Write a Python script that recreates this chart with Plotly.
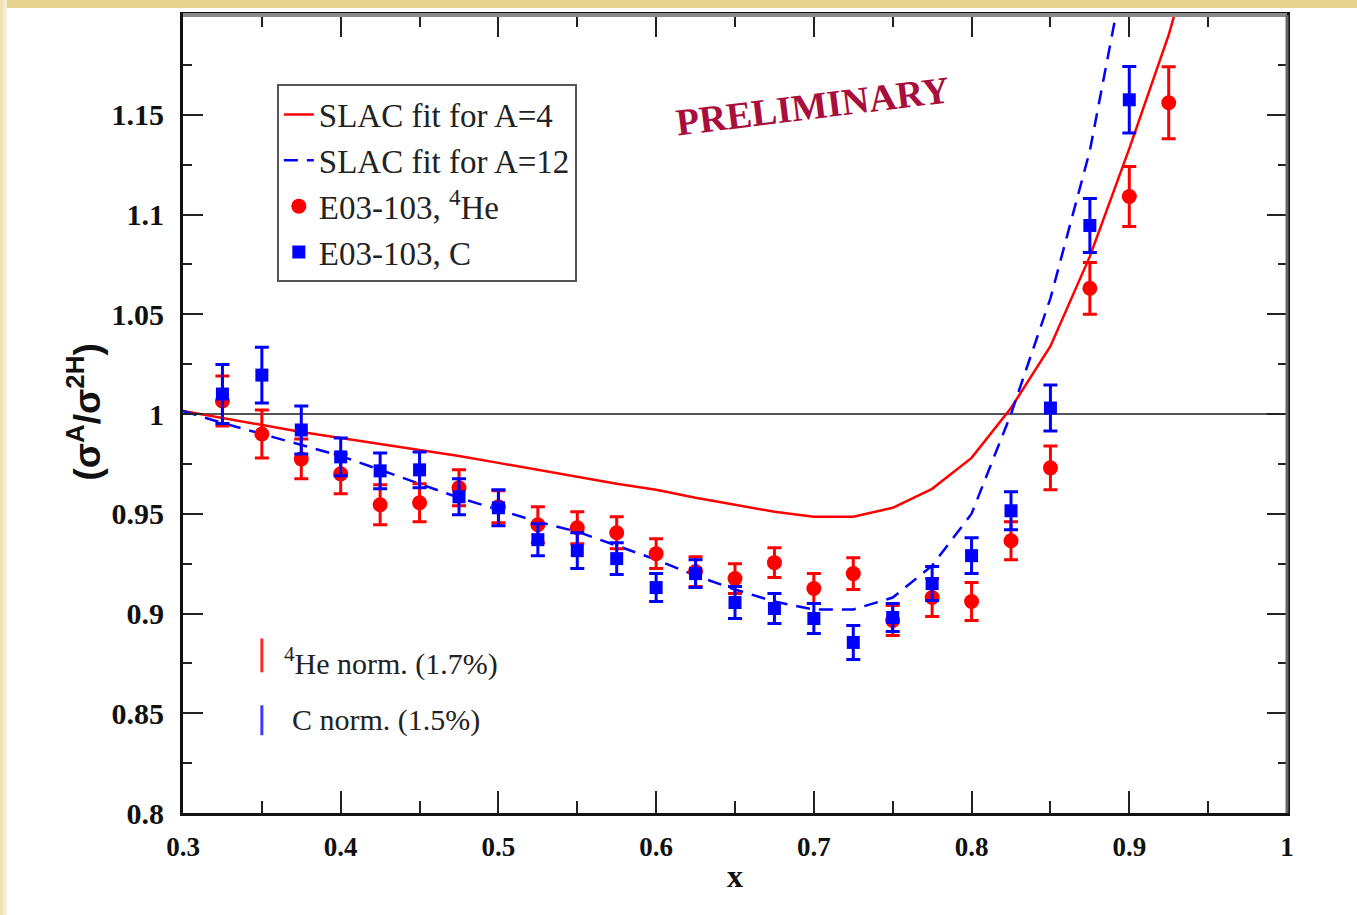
import plotly.graph_objects as go

# ---------------- data ----------------
x_he = [0.325, 0.35, 0.375, 0.4, 0.425, 0.45, 0.475, 0.5, 0.525, 0.55, 0.575, 0.6, 0.625,
        0.65, 0.675, 0.7, 0.725, 0.75, 0.775, 0.8, 0.825, 0.85, 0.875, 0.9, 0.925]
y_he = [1.0065, 0.990, 0.9775, 0.970, 0.9545, 0.9555, 0.963, 0.9535, 0.9445, 0.943, 0.9405,
        0.930, 0.921, 0.9175, 0.9255, 0.9125, 0.920, 0.8965, 0.908, 0.906, 0.9365, 0.973,
        1.063, 1.109, 1.156]
e_he = [0.0125, 0.012, 0.010, 0.010, 0.010, 0.0095, 0.009, 0.008, 0.009, 0.008, 0.008,
        0.0075, 0.0075, 0.0075, 0.0075, 0.0075, 0.008, 0.0075, 0.0095, 0.0095, 0.0095,
        0.011, 0.013, 0.015, 0.018]

x_c = [0.325, 0.35, 0.375, 0.4, 0.425, 0.45, 0.475, 0.5, 0.525, 0.55, 0.575, 0.6, 0.625,
       0.65, 0.675, 0.7, 0.725, 0.75, 0.775, 0.8, 0.825, 0.85, 0.875, 0.9]
y_c = [1.010, 1.0195, 0.992, 0.9785, 0.9715, 0.972, 0.9585, 0.953, 0.937, 0.9315, 0.9275,
       0.913, 0.920, 0.9055, 0.9025, 0.8975, 0.8855, 0.898, 0.915, 0.929, 0.9515, 1.003,
       1.0945, 1.1575]
e_c = [0.0148, 0.014, 0.012, 0.0095, 0.009, 0.009, 0.009, 0.009, 0.008, 0.009, 0.008,
       0.007, 0.007, 0.008, 0.0075, 0.0075, 0.0085, 0.007, 0.0085, 0.009, 0.0095, 0.0115,
       0.0135, 0.0167]

fit_x4 = [0.3, 0.325, 0.35, 0.375, 0.4, 0.425, 0.45, 0.475, 0.5, 0.525, 0.55, 0.575, 0.6,
          0.625, 0.65, 0.675, 0.7, 0.725, 0.75, 0.775, 0.8, 0.825, 0.85, 0.875, 0.9, 0.925, 0.95]
fit_a4 = [1.0015, 0.998, 0.9945, 0.991, 0.988, 0.985, 0.982, 0.979, 0.9755, 0.972, 0.9685,
          0.965, 0.962, 0.958, 0.9545, 0.951, 0.9485, 0.9485, 0.953, 0.9625, 0.978, 1.003,
          1.034, 1.079, 1.133, 1.19, 1.26]
fit_x12 = [0.3, 0.325, 0.35, 0.375, 0.4, 0.425, 0.45, 0.475, 0.5, 0.525, 0.55, 0.575, 0.6,
           0.625, 0.65, 0.675, 0.7, 0.725, 0.75, 0.775, 0.8, 0.825, 0.85, 0.875, 0.9]
fit_a12 = [1.0015, 0.9955, 0.990, 0.9845, 0.979, 0.972, 0.965, 0.958, 0.952, 0.946, 0.941,
           0.934, 0.927, 0.919, 0.912, 0.906, 0.902, 0.902, 0.908, 0.924, 0.95, 1.000, 1.058,
           1.132, 1.235]

norm_x = [0.35, 0.35]
norm_he = [0.8705, 0.8875]
norm_c = [0.839, 0.854]

x_ticks = [0.3, 0.4, 0.5, 0.6, 0.7, 0.8, 0.9, 1.0]
x_ticktext = ["0.3", "0.4", "0.5", "0.6", "0.7", "0.8", "0.9", "1"]
y_ticks = [0.8, 0.85, 0.9, 0.95, 1.0, 1.05, 1.1, 1.15]
y_ticktext = ["0.8", "0.85", "0.9", "0.95", "1", "1.05", "1.1", "1.15"]

SERIF = "Liberation Serif, Times New Roman, serif"
RED = "#ff0000"
BLUE = "#0000ff"

fig = go.Figure()

fig.add_trace(go.Scatter(x=fit_x4, y=fit_a4, mode="lines", name="SLAC fit for A=4",
                         line=dict(color=RED, width=2.5)))
fig.add_trace(go.Scatter(x=fit_x12, y=fit_a12, mode="lines", name="SLAC fit for A=12",
                         line=dict(color=BLUE, width=2.5, dash="14px,9px")))
fig.add_trace(go.Scatter(x=x_he, y=y_he, mode="markers", name="E03-103, <sup>4</sup>He",
                         marker=dict(symbol="circle", size=15, color=RED),
                         error_y=dict(type="data", array=e_he, color=RED, thickness=3, width=7)))
fig.add_trace(go.Scatter(x=x_c, y=y_c, mode="markers", name="E03-103, C",
                         marker=dict(symbol="square", size=13, color=BLUE),
                         error_y=dict(type="data", array=e_c, color=BLUE, thickness=3, width=7)))

# normalization bars
fig.add_trace(go.Scatter(x=norm_x, y=norm_he, mode="lines", showlegend=False,
                         line=dict(color="#ff2a2a", width=3)))
fig.add_trace(go.Scatter(x=norm_x, y=norm_c, mode="lines", showlegend=False,
                         line=dict(color="#3a3aff", width=3)))

# page decoration (beige border)
shapes = [
    dict(type="line", xref="paper", yref="y", x0=0, x1=1, y0=1, y1=1,
         line=dict(color="#555555", width=2), layer="below"),
    dict(type="rect", xref="paper", yref="paper", x0=-0.2, x1=1.1, y0=1.0088, y1=1.02,
         fillcolor="#e6d38f", line=dict(width=0), layer="below"),
    dict(type="rect", xref="paper", yref="paper", x0=-0.2, x1=-0.1625, y0=-0.2, y1=1.02,
         fillcolor="#efe2b5", line=dict(width=0), layer="below"),
    dict(type="rect", xref="paper", yref="paper", x0=-0.1625, x1=-0.1595, y0=-0.2, y1=1.02,
         fillcolor="#f6efd8", line=dict(width=0), layer="below"),
    # top and right frame in gray
    dict(type="line", xref="paper", yref="paper", x0=0, x1=1, y0=1, y1=1,
         line=dict(color="#8a8a8a", width=4)),
    dict(type="line", xref="paper", yref="paper", x0=1, x1=1, y0=0, y1=1,
         line=dict(color="#666666", width=3)),
]

annotations = [
    dict(text="PRELIMINARY",
         x=0.3 + (812 - 183) / 1104 * 0.7, y=0.8 + (813 - 103) / 801 * 0.4,
         xref="x", yref="y", showarrow=False,
         textangle=-7, font=dict(family=SERIF, size=38, color="#a80f3c", weight="bold"),
         xanchor="center", yanchor="middle"),
    dict(text="<sup>4</sup>He norm. (1.7%)", x=0.3625, y=0.876, xref="x", yref="y",
         showarrow=False, xanchor="left", yanchor="middle",
         font=dict(family=SERIF, size=30, color="#222222")),
    dict(text="C norm. (1.5%)", x=0.368, y=0.8465, xref="x", yref="y",
         showarrow=False, xanchor="left", yanchor="middle",
         font=dict(family=SERIF, size=30, color="#222222")),
    dict(text="(σ<sup>A</sup>/σ<sup>2H</sup>)", x=-0.0888, y=0.503, xref="paper", yref="paper",
         showarrow=False, textangle=-90, xanchor="center", yanchor="middle",
         font=dict(family="Liberation Sans, Arial, sans-serif", size=37, color="#111111",
                   weight="bold")),
]

fig.update_layout(
    width=1357, height=915,
    margin=dict(l=183, r=70, t=12, b=102),
    paper_bgcolor="white", plot_bgcolor="white",
    showlegend=True,
    legend=dict(x=0.085, y=0.913, xanchor="left", yanchor="top",
                bgcolor="white", bordercolor="#555555", borderwidth=2,
                font=dict(family=SERIF, size=33, color="#222222"),
                tracegroupgap=0, itemwidth=30),
    shapes=shapes,
    annotations=annotations,
    xaxis=dict(range=[0.3, 1.0], tickvals=x_ticks, ticktext=x_ticktext,
               ticks="inside", ticklen=22, tickwidth=2, tickcolor="#222222",
               showline=True, linecolor="#111111", linewidth=3, mirror="ticks",
               showgrid=False, zeroline=False,
               minor=dict(dtick=0.05, tick0=0.3, ticks="inside", ticklen=12, tickwidth=2,
                          tickcolor="#222222", showgrid=False),
               tickfont=dict(family=SERIF, size=27, color="#111111", weight="bold"),
               ticklabelstandoff=8,
               title=dict(text="x", standoff=4,
                          font=dict(family=SERIF, size=32, color="#111111", weight="bold"))),
    yaxis=dict(range=[0.8, 1.2], tickvals=y_ticks, ticktext=y_ticktext,
               ticks="inside", ticklen=20, tickwidth=2, tickcolor="#222222",
               showline=True, linecolor="#111111", linewidth=3, mirror="ticks",
               showgrid=False, zeroline=False,
               minor=dict(dtick=0.025, tick0=0.8, ticks="inside", ticklen=9, tickwidth=2,
                          tickcolor="#222222", showgrid=False),
               tickfont=dict(family=SERIF, size=30, color="#111111", weight="bold"),
               ticklabelstandoff=10),
)

fig.write_html("out.html")
